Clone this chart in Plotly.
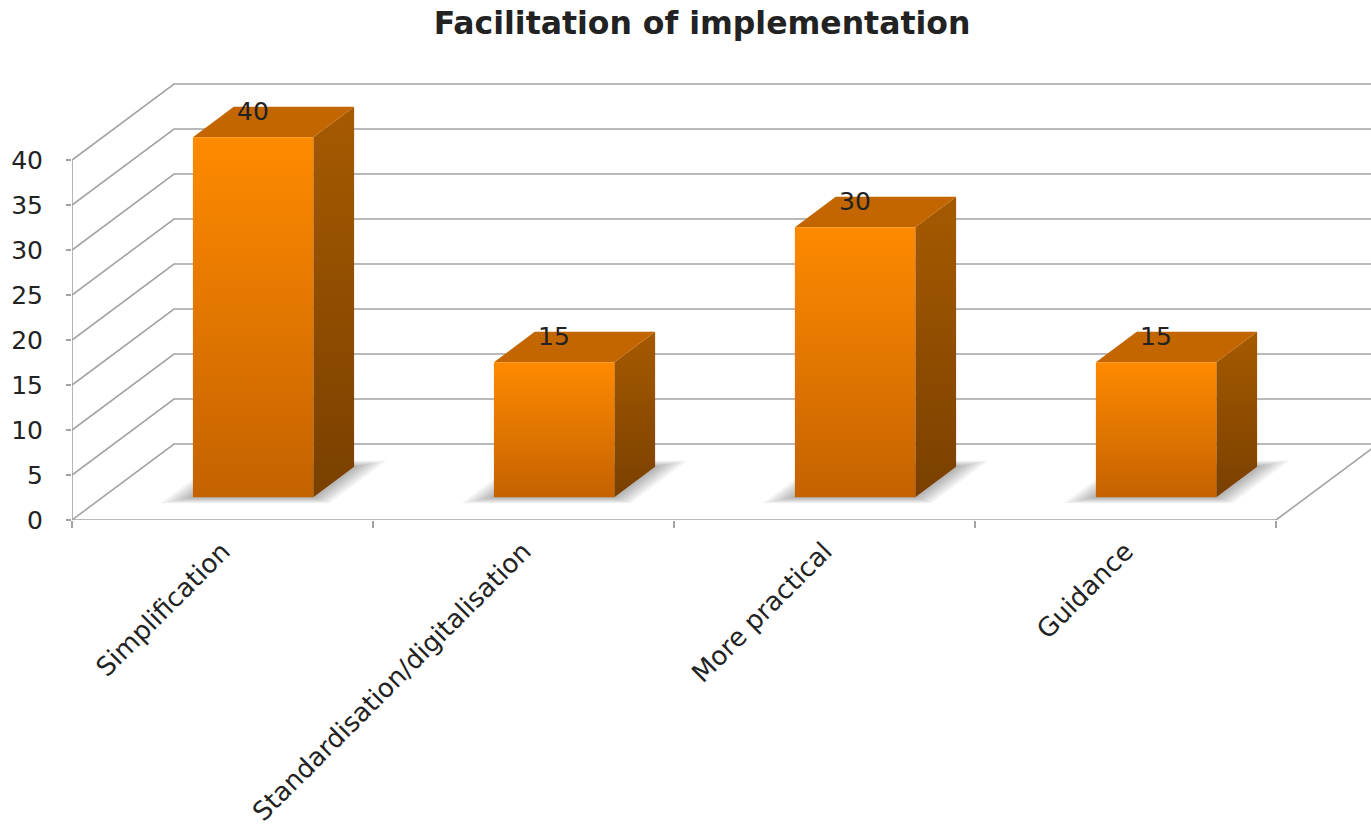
import plotly.graph_objects as go

# ---- data ----
categories = ["Simplification", "Standardisation/digitalisation", "More practical", "Guidance"]
values = [40, 15, 30, 15]
y_tick_values = [0, 5, 10, 15, 20, 25, 30, 35, 40]
y_max_grid = 40

# ---- oblique 3D look (axis units) ----
DEPTH_X = 102 / 301      # full floor depth, horizontal component (category units)
DEPTH_Y = 76 / 9.0       # full floor depth, vertical component (value units)
BAR_HALF = 0.2           # half of the bar width (category units)
BAR_FRONT = 0.3          # depth fraction of bar front face
BAR_BACK = 0.7           # depth fraction of bar back face

GRID = "#a3a3a3"
FONT = "Verdana, DejaVu Sans, sans-serif"

X_RANGE = [0, 1299 / 301]
Y_RANGE = [0, 50]


def proj(x, y, d):
    """Oblique projection of a point (x, value y, depth fraction d)."""
    return x + d * DEPTH_X, y + d * DEPTH_Y


def poly(points):
    xs = [p[0] for p in points] + [points[0][0]]
    ys = [p[1] for p in points] + [points[0][1]]
    return xs, ys


fig = go.Figure()

# ---- walls and floor ----
n = len(categories)
gx, gy = [], []
for t in y_tick_values:
    a = proj(0, t, 0)
    b = proj(0, t, 1)
    c = proj(n + 1, t, 1)
    gx += [a[0], b[0], c[0], None]
    gy += [a[1], b[1], c[1], None]
# front vertical edge (value axis)
gx += [0, 0, None]
gy += [0, y_max_grid, None]
# floor front edge and right edge
f0, f1, f2 = proj(0, 0, 0), proj(n, 0, 0), proj(n, 0, 1)
gx += [f0[0], f1[0], f2[0], None]
gy += [f0[1], f1[1], f2[1], None]
fig.add_trace(go.Scatter(x=gx, y=gy, mode="lines",
                         line=dict(color=GRID, width=1.6),
                         hoverinfo="skip", showlegend=False))

# ---- soft floor shadows ----
for i, v in enumerate(values):
    c = i + 0.5
    for k in range(6, 0, -1):
        ex = 4.0 * k / 301          # horizontal spread
        ed = 1.0 * k / 76           # depth spread
        pts = [proj(c - BAR_HALF - ex, 0, BAR_FRONT - ed),
               proj(c + BAR_HALF + ex, 0, BAR_FRONT - ed),
               proj(c + BAR_HALF + ex, 0, BAR_BACK + ed),
               proj(c - BAR_HALF - ex, 0, BAR_BACK + ed)]
        xs, ys = poly(pts)
        fig.add_trace(go.Scatter(x=xs, y=ys, mode="lines", fill="toself",
                                 fillcolor="rgba(0,0,0,0.05)",
                                 line=dict(width=0), hoverinfo="skip",
                                 showlegend=False))

# ---- bars ----
for i, v in enumerate(values):
    c = i + 0.5
    x0, x1 = c - BAR_HALF, c + BAR_HALF

    # right side face
    side = [proj(x1, 0, BAR_FRONT), proj(x1, 0, BAR_BACK),
            proj(x1, v, BAR_BACK), proj(x1, v, BAR_FRONT)]
    xs, ys = poly(side)
    fig.add_trace(go.Scatter(
        x=xs, y=ys, mode="lines", fill="toself", line=dict(width=0),
        fillgradient=dict(type="vertical",
                          colorscale=[[0, "#7a4000"], [1, "#a65a00"]],
                          start=side[0][1], stop=side[2][1]),
        hoverinfo="skip", showlegend=False))

    # top face
    top = [proj(x0, v, BAR_FRONT), proj(x1, v, BAR_FRONT),
           proj(x1, v, BAR_BACK), proj(x0, v, BAR_BACK)]
    xs, ys = poly(top)
    fig.add_trace(go.Scatter(
        x=xs, y=ys, mode="lines", fill="toself", line=dict(width=0),
        fillcolor="#c46600", hoverinfo="skip", showlegend=False))

    # front face
    front = [proj(x0, 0, BAR_FRONT), proj(x1, 0, BAR_FRONT),
             proj(x1, v, BAR_FRONT), proj(x0, v, BAR_FRONT)]
    xs, ys = poly(front)
    fig.add_trace(go.Scatter(
        x=xs, y=ys, mode="lines", fill="toself", line=dict(width=0),
        fillgradient=dict(type="vertical",
                          colorscale=[[0, "#c46200"], [1, "#ff8a00"]],
                          start=front[0][1], stop=front[2][1]),
        hoverinfo="skip", showlegend=False))

    # value label above the bar
    lx, ly = proj(c, v, BAR_FRONT)
    fig.add_annotation(x=lx, y=ly, text=str(v), showarrow=False,
                       yanchor="middle", yshift=26,
                       font=dict(family=FONT, size=25, color="#222222"))

fig.update_layout(
    width=1371, height=836,
    margin=dict(l=72, r=0, t=70, b=316),
    paper_bgcolor="white", plot_bgcolor="white",
    title=dict(text="<b>Facilitation of implementation</b>",
               x=702 / 1371, xref="container", xanchor="center",
               y=1 - 23 / 836, yref="container", yanchor="middle",
               font=dict(family=FONT, size=31.5, color="#222222")),
    xaxis=dict(range=X_RANGE, showgrid=False, zeroline=False, showline=False,
               tickmode="array", tickvals=[i + 0.5 for i in range(n)],
               ticktext=categories, tickangle=-45, ticks="",
               ticklabelstandoff=10,
               tickfont=dict(family=FONT, size=26, color="#222222"),
               minor=dict(ticks="outside", ticklen=7, tickcolor=GRID,
                          tickwidth=1.6, tick0=0, dtick=1, showgrid=False)),
    yaxis=dict(range=Y_RANGE, showgrid=False, zeroline=False, showline=False,
               tickmode="array", tickvals=y_tick_values,
               ticks="outside", ticklen=5, tickcolor=GRID, tickwidth=1.6,
               ticklabelstandoff=18,
               tickfont=dict(family=FONT, size=25, color="#222222")),
    showlegend=False,
)

fig.write_html("out.html")
